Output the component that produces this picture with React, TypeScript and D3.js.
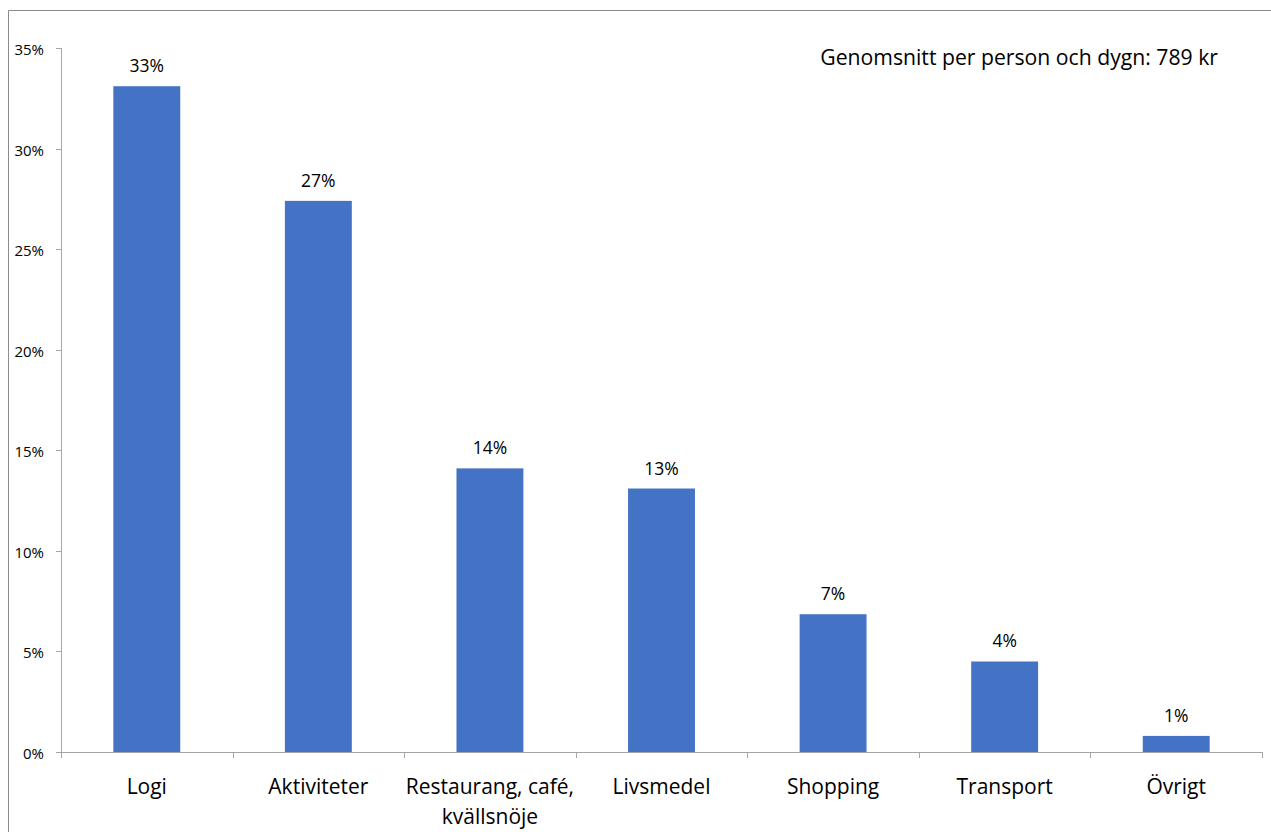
import React from "react";
import * as d3 from "d3";

const categories = ["Logi", "Aktiviteter", "Restaurang, café, kvällsnöje", "Livsmedel", "Shopping", "Transport", "Övrigt"];
const categoryLines = [["Logi"], ["Aktiviteter"], ["Restaurang, café,", "kvällsnöje"], ["Livsmedel"], ["Shopping"], ["Transport"], ["Övrigt"]];
const values = [33.1, 27.4, 14.1, 13.1, 6.85, 4.5, 0.8];
const valueLabels = ["33%", "27%", "14%", "13%", "7%", "4%", "1%"];
const yTicks = [0, 5, 10, 15, 20, 25, 30, 35];
const annotation = "Genomsnitt per person och dygn: 789 kr";

const W = 1271, H = 832;
const FONT = "'Open Sans', sans-serif";

export default function App() {
  const x0 = 61, x1 = 1262, yTop = 48, yBot = 752;
  const x = d3.scaleBand<string>().domain(categories).range([x0, x1]).paddingInner(0.61).paddingOuter(0.305);
  const band = d3.scaleBand<string>().domain(categories).range([x0, x1]);
  const y = d3.scaleLinear().domain([0, 35]).range([yBot, yTop]);
  const axisColor = "#a6a6a6";
  return (
    <svg width={W} height={H} style={{ position: "absolute", left: 0, top: 0, fontFamily: FONT }}>
      <rect x={0} y={0} width={W} height={H} fill="#fff" />
      <path d={`M8.5,${H} V10.5 H${W}`} fill="none" stroke="#8c8c8c" strokeWidth={1} />
      {/* y axis */}
      <line x1={x0 + 0.5} x2={x0 + 0.5} y1={yTop} y2={yBot} stroke={axisColor} />
      {yTicks.map((t) => (
        <g key={t}>
          <line x1={x0 - 5} x2={x0} y1={Math.round(y(t)) + 0.5} y2={Math.round(y(t)) + 0.5} stroke={axisColor} />
          <text x={44} y={y(t) + 7} textAnchor="end" fontSize={15} fill="#000">{t}%</text>
        </g>
      ))}
      {/* bars */}
      {categories.map((c, i) => (
        <rect key={c} x={x(c)} y={y(values[i])} width={x.bandwidth()} height={yBot - y(values[i])} fill="#4472c4" />
      ))}
      {/* x axis */}
      <line x1={x0} x2={x1} y1={yBot + 0.5} y2={yBot + 0.5} stroke={axisColor} />
      {categories.map((c) => (
        <line key={c} x1={Math.round(band(c)! + band.bandwidth()) + 0.5} x2={Math.round(band(c)! + band.bandwidth()) + 0.5} y1={yBot} y2={yBot + 6} stroke={axisColor} />
      ))}
      <line x1={x0 + 0.5} x2={x0 + 0.5} y1={yBot} y2={yBot + 6} stroke={axisColor} />
      {/* value labels */}
      {categories.map((c, i) => (
        <text key={c} x={x(c)! + x.bandwidth() / 2} y={y(values[i]) - 14} textAnchor="middle" fontSize={17.5} fill="#000">{valueLabels[i]}</text>
      ))}
      {/* category labels */}
      {categories.map((c, i) => (
        <text key={c} x={band(c)! + band.bandwidth() / 2} y={794} textAnchor="middle" fontSize={21} fill="#000">
          {categoryLines[i].map((l, j) => (
            <tspan key={j} x={band(c)! + band.bandwidth() / 2} dy={j === 0 ? 0 : 30}>{l}</tspan>
          ))}
        </text>
      ))}
      <text x={1218} y={65} textAnchor="end" fontSize={21.2} fill="#000">{annotation}</text>
    </svg>
  );
}
